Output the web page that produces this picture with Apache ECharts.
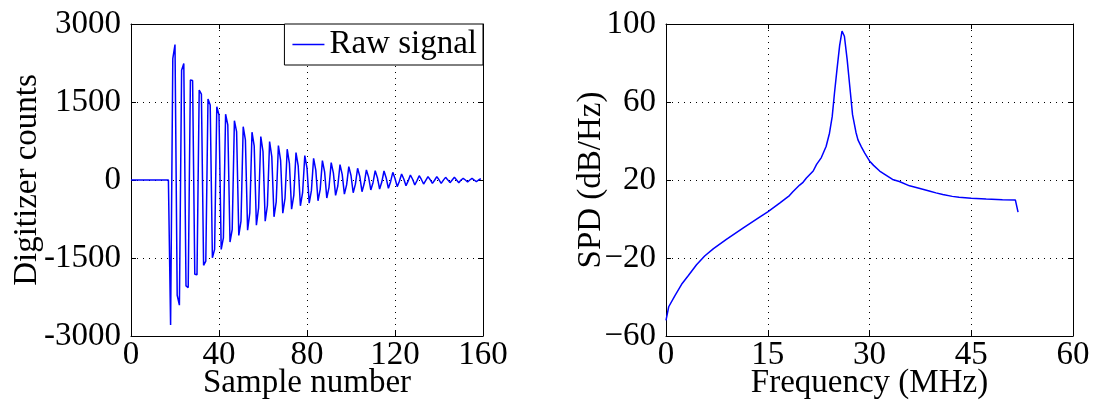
<!DOCTYPE html>
<html><head><meta charset="utf-8">
<script src="https://cdn.jsdelivr.net/npm/echarts@6/dist/echarts.min.js"></script>
<style>html,body{margin:0;padding:0;background:#fff}#c{width:1101px;height:401px}</style>
</head><body><div id="c"></div>
<script>
// ---- Left panel: raw digitizer signal (sample index = position in array) ----
const sampleValues = [
  0,0,0,0,0,0,0,0,0,0,0,0,0,0,0,0,0,0,
  -2790, 2336, 2604, -2216, -2407, 2112, 2240, -2037, -2069, 1921,
  1915, -1813, -1820, 1729, 1653, -1641, -1559, 1557, 1442, -1494,
  -1335, 1410, 1251, -1335, -1111, 1264, 1059, -1194, -952, 1141,
  931, -1067, -792, 1026, 772, -965, -632, 919, 657, -869,
  -536, 835, 548, -791, -490, 739, 450, -708, -420, 662,
  380, -637, -355, 592, 320, -560, -295, 527, 270, -496,
  -245, 469, 228, -444, -205, 418, 190, -400, -180, 372,
  156, -347, -140, 334, 133, -295, -115, 295, 109, -271,
  -95, 257, 87, -245, -80, 225, 70, -225, -68, 193,
  55, -192, -52, 179, 45, -173, -40, 173, 38, -160,
  -32, 147, 29, -128, -24, 115, 20, -109, -17, 96,
  14, -96, -12, 83, 10, -77, -8, 64, 6, -64,
  -5, 64, 4, -64, -3, 51, 2, -51, 0, 51,
  0, -51, 0, 32, 0, -38, 0, 32, 0, -32,
  0, 25
];
const signalName = 'Raw signal';
const leftXTicks = [0, 40, 80, 120, 160];
const leftYTicks = [-3000, -1500, 0, 1500, 3000];

// ---- Right panel: spectral power density ----
const freqMHz = [0, 0.4, 1.3, 2.3, 3.3, 4.5, 5.7, 7.0, 8.9, 11.4, 13.8, 15.0, 16.8, 18.2, 18.7,
  19.7, 20.2, 20.7, 21.7, 22.2, 22.9, 23.6, 24.1, 24.5, 24.85, 25.2, 25.6, 25.95, 26.3, 26.7,
  27.1, 27.5, 28.0, 28.3, 28.8, 29.3, 30.0, 30.6, 31.5, 32.3, 33.4, 34.4, 35.9, 37.3, 38.8,
  39.8, 40.8, 42.2, 43.2, 45.0, 47.2, 49.6, 51.5, 51.9];
const spdDb = [-52, -45, -39.4, -33.5, -29, -23.5, -19, -15.2, -10.5, -4.5, 1, 3.7, 8.3, 12, 14,
  17.4, 18.8, 21, 24.6, 28, 31.5, 37.2, 44, 52.5, 65, 76.5, 89, 96.4, 93.7, 82,
  67.8, 53.5, 44.5, 40.6, 37, 33.8, 29.8, 27.5, 24.6, 22.8, 20.3, 19.2, 17, 15.8, 14.4,
  13.4, 12.6, 11.6, 11.1, 10.7, 10.3, 9.9, 9.8, 3.5];
const rightXTicks = [0, 15, 30, 45, 60];
const rightYTicks = [-60, -20, 20, 60, 100];

const FONT = 'Liberation Serif';
const txt = { fontFamily: FONT, fontSize: 33, color: '#000' };
const axisLine = { show: true, onZero: false, lineStyle: { color: '#000', width: 1 } };
const tick = { show: true, inside: true, length: 5, lineStyle: { color: '#000', width: 1 } };
const split = { show: true, lineStyle: { color: '#000', width: 1, type: [1, 5] } };

function ax(ticks, extra) {
  return Object.assign({
    type: 'value',
    min: ticks[0], max: ticks[ticks.length - 1], interval: ticks[1] - ticks[0],
    axisLine: axisLine, axisTick: tick, splitLine: split,
    nameMoveOverlap: false
  }, extra);
}
const mirror = { axisLabel: { show: false }, splitLine: { show: false } };
const plain = v => String(v);

const chart = echarts.init(document.getElementById('c'), null, { renderer: 'canvas' });
chart.setOption({
  animation: false,
  backgroundColor: '#fff',
  grid: [
    { left: 131, top: 24, width: 352, height: 312, containLabel: false, outerBoundsMode: 'none' },
    { left: 666, top: 24, width: 407, height: 312, containLabel: false, outerBoundsMode: 'none' }
  ],
  legend: {
    data: [{ name: signalName, icon: 'rect' }],
    right: 618, top: 24,
    itemWidth: 32, itemHeight: 1.5,
    itemStyle: { color: '#0000ff' },
    textStyle: txt,
    borderColor: '#000', borderWidth: 1, borderRadius: 0,
    backgroundColor: '#fff',
    padding: [4, 6, 4, 8],
    z: 10
  },
  xAxis: [
    ax(leftXTicks, { gridIndex: 0, position: 'bottom',
      axisLabel: Object.assign({ margin: 3, formatter: plain }, txt),
      name: 'Sample number', nameLocation: 'middle', nameGap: 31, nameTextStyle: txt }),
    ax(leftXTicks, Object.assign({ gridIndex: 0, position: 'top' }, mirror)),
    ax(rightXTicks, { gridIndex: 1, position: 'bottom',
      axisLabel: Object.assign({ margin: 3, formatter: plain }, txt),
      name: 'Frequency (MHz)', nameLocation: 'middle', nameGap: 31, nameTextStyle: txt }),
    ax(rightXTicks, Object.assign({ gridIndex: 1, position: 'top' }, mirror))
  ],
  yAxis: [
    ax(leftYTicks, { gridIndex: 0, position: 'left',
      axisLabel: Object.assign({ margin: 10, formatter: plain }, txt),
      name: 'Digitizer counts', nameLocation: 'middle', nameGap: 87, nameTextStyle: txt }),
    ax(leftYTicks, Object.assign({ gridIndex: 0, position: 'right' }, mirror)),
    ax(rightYTicks, { gridIndex: 1, position: 'left',
      axisLabel: Object.assign({ margin: 10, formatter: v => String(v).replace('-', '\u2212') }, txt),
      name: 'SPD (dB/Hz)', nameLocation: 'middle', nameGap: 58, nameTextStyle: txt }),
    ax(rightYTicks, Object.assign({ gridIndex: 1, position: 'right' }, mirror))
  ],
  series: [
    { name: signalName, type: 'line', xAxisIndex: 0, yAxisIndex: 0,
      data: sampleValues.map((v, i) => [i, v]),
      symbol: 'none', lineStyle: { color: '#0000ff', width: 1.5 }, itemStyle: { color: '#0000ff' } },
    { name: 'SPD', type: 'line', xAxisIndex: 2, yAxisIndex: 2,
      data: freqMHz.map((f, i) => [f, spdDb[i]]),
      symbol: 'none', lineStyle: { color: '#0000ff', width: 1.5 }, itemStyle: { color: '#0000ff' } }
  ]
});
</script></body></html>
